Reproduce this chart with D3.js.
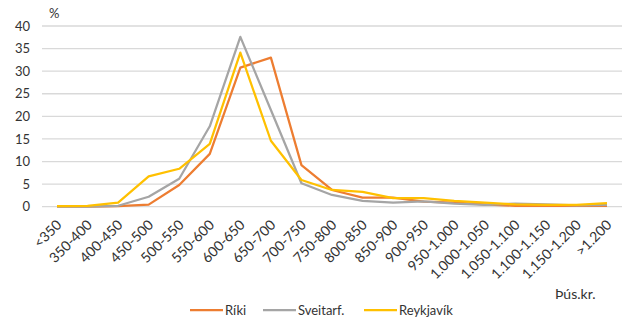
<!DOCTYPE html>
<html><head><meta charset="utf-8">
<script src="https://cdn.jsdelivr.net/npm/d3@7"></script>
<style>body{margin:0;background:#fff}svg{display:block;font-family:Lato,"Open Sans",sans-serif}</style>
</head><body><svg id="c" width="627" height="320"></svg>
<script>
const categories = ["<350","350-400","400-450","450-500","500-550","550-600","600-650","650-700","700-750","750-800","800-850","850-900","900-950","950-1.000","1.000-1.050","1.050-1.100","1.100-1.150","1.150-1.200",">1.200"];
const riki = [0,0,0.1,0.45,4.8,11.7,30.8,33,9.2,3.7,2.0,2.0,1.1,0.9,0.5,0.2,0.2,0.2,0.2];
const sveitarf = [0,0,0.2,2.2,6.2,17.8,37.6,21.4,5.2,2.6,1.3,0.9,1.2,0.7,0.4,0.7,0.5,0.3,0.4];
const reykjavik = [0.1,0.2,0.9,6.7,8.4,13.9,34.1,14.6,5.9,3.7,3.3,1.9,1.9,1.3,0.9,0.5,0.4,0.4,0.8];
const yTicks = [0,5,10,15,20,25,30,35,40];
const seriesNames = ["Ríki","Sveitarf.","Reykjavík"];
const colors = ["#ED7D31","#A5A5A5","#FFC000"];

const svg = d3.select("#c");
const x = d3.scalePoint().domain(categories).range([57,607]);
const y = d3.scaleLinear().domain([0,40]).range([206.7,26]);

// gridlines
svg.append("g").selectAll("line").data(yTicks).join("line")
  .attr("x1",42).attr("x2",622).attr("y1",d=>y(d)).attr("y2",d=>y(d))
  .attr("stroke","#d9d9d9").attr("stroke-width",1.3);

// y axis labels
const yAxis = d3.axisLeft(y).tickValues(yTicks).tickSize(0).tickPadding(0);
const gy = svg.append("g").attr("transform","translate(30,0)").call(yAxis);
gy.select(".domain").remove();
gy.selectAll("text").attr("font-size",13).attr("fill","#333").attr("font-family","Lato,sans-serif");

svg.append("text").attr("x",49).attr("y",18).attr("font-size",13).attr("fill","#333").text("%");

// x axis labels
const xAxis = d3.axisBottom(x).tickSize(0).tickPadding(0);
const gx = svg.append("g").attr("transform","translate(0,206.7)").call(xAxis);
gx.select(".domain").remove();
gx.selectAll(".tick text").attr("font-size",14).attr("fill","#333").attr("font-family","Lato,sans-serif")
  .attr("text-anchor","end").attr("dy",0).attr("y",0)
  .attr("transform","translate(5,19) rotate(-45)");

// lines
const all = [riki, sveitarf, reykjavik];
const line = d3.line().x((d,i)=>x(categories[i])).y(d=>y(d));
svg.append("g").selectAll("path").data(all).join("path")
  .attr("d",line).attr("fill","none").attr("stroke",(d,i)=>colors[i])
  .attr("stroke-width",2.25).attr("stroke-linejoin","round");

// Þús.kr.
svg.append("text").attr("x",555).attr("y",299).attr("font-size",14).attr("fill","#333").text("Þús.kr.");

// legend
const legX = [190,263,364];
const lg = svg.append("g").selectAll("g").data(seriesNames).join("g")
  .attr("transform",(d,i)=>`translate(${legX[i]},310)`);
lg.append("line").attr("x1",0).attr("x2",33).attr("y1",0).attr("y2",0)
  .attr("stroke",(d,i)=>colors[i]).attr("stroke-width",2.25);
lg.append("text").attr("x",35).attr("y",4.5).attr("font-size",13).attr("fill","#333").text(d=>d);
</script></body></html>
